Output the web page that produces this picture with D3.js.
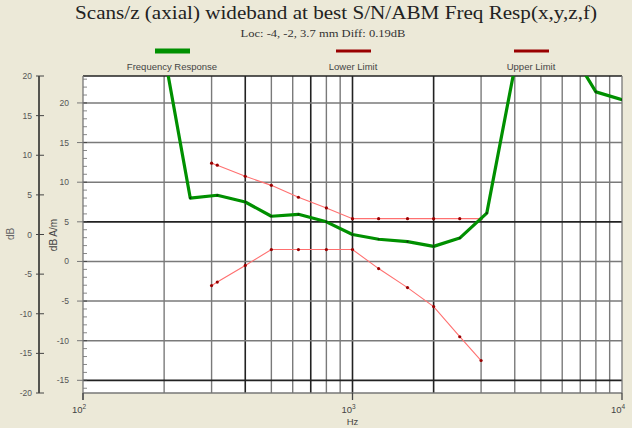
<!DOCTYPE html>
<html>
<head>
<meta charset="utf-8">
<script src="https://cdn.jsdelivr.net/npm/d3@7"></script>
<style>
  body { margin: 0; background: #ECE9D8; }
  svg { display: block; }
  text { font-family: "Liberation Sans", Arial, sans-serif; }
</style>
</head>
<body>
<div id="chart"></div>
<script>
// Data
const freqs = [200, 250, 315, 400, 500, 630, 800, 1000, 1250, 1600, 2000, 2500, 3150, 4000, 5000, 6300, 8000, 10000];
const response = [26.3, 8.0, 8.35, 7.5, 5.7, 5.95, 5.0, 3.4, 2.8, 2.5, 1.9, 2.95, 6.1, 24.5, 31, 27.2, 21.4, 20.4];

const limitFreqs = [300, 315, 400, 500, 630, 800, 1000, 1250, 1600, 2000, 2500, 3000];
const upperLimit = [12.4, 12.15, 10.75, 9.6, 8.1, 6.75, 5.4, 5.4, 5.4, 5.4, 5.4, 5.4];
const lowerLimit = [-3.05, -2.6, -0.5, 1.5, 1.5, 1.5, 1.5, -0.9, -3.3, -5.7, -9.5, -12.5];

const gridFreqs = [200, 300, 400, 500, 600, 700, 800, 900, 2000, 3000, 4000, 5000, 6000, 7000, 8000, 9000];
const boldFreqs = [400, 700, 1000, 2000];
const dbTicks = [-15, -10, -5, 0, 5, 10, 15, 20];
const boldDb = [5, -15];
const leftTicks = [-20, -15, -10, -5, 0, 5, 10, 15, 20];
const decades = [{ f: 100, e: "2" }, { f: 1000, e: "3" }, { f: 10000, e: "4" }];

const legendItems = [
  { name: "Frequency Response", color: "#009000", h: 5 },
  { name: "Lower Limit", color: "#990000", h: 3 },
  { name: "Upper Limit", color: "#990000", h: 3 }
];

const W = 632, H = 428;
const plot = { left: 83, right: 622, top: 76, bottom: 393 };

const svg = d3.select("#chart").append("svg")
  .attr("width", W)
  .attr("height", H);

const x = d3.scaleLog().domain([100, 10000]).range([plot.left, plot.right]);
const y = d3.scaleLinear().domain([-16.6, 23.4]).range([plot.bottom, plot.top]);
const yLeft = d3.scaleLinear().domain([-20, 20]).range([plot.bottom, plot.top]);

// Title
svg.append("text")
  .attr("x", 336).attr("y", 19)
  .attr("text-anchor", "middle")
  .attr("textLength", 522)
  .attr("lengthAdjust", "spacingAndGlyphs")
  .style("font-family", "'Liberation Serif', 'Times New Roman', serif")
  .style("font-size", "18px")
  .attr("fill", "#222")
  .text("Scans/z (axial) wideband at best S/N/ABM Freq Resp(x,y,z,f)");

svg.append("text")
  .attr("x", 323).attr("y", 37)
  .attr("text-anchor", "middle")
  .attr("textLength", 165)
  .attr("lengthAdjust", "spacingAndGlyphs")
  .style("font-family", "'Liberation Serif', 'Times New Roman', serif")
  .style("font-size", "10px")
  .attr("fill", "#333")
  .text("Loc: -4, -2, 3.7 mm Diff: 0.19dB");

// Legend
const legendX = [172, 353, 531];
const lg = svg.append("g").selectAll("g")
  .data(legendItems)
  .enter().append("g")
  .attr("transform", (d, i) => "translate(" + legendX[i] + ",0)");

lg.append("rect")
  .attr("x", -17).attr("width", 35)
  .attr("y", d => 51 - d.h / 2)
  .attr("height", d => d.h)
  .attr("fill", d => d.color);

lg.append("text")
  .attr("y", 70)
  .attr("text-anchor", "middle")
  .style("font-size", "9.5px")
  .attr("fill", "#444")
  .text(d => d.name);

// Plot background
svg.append("rect")
  .attr("x", plot.left).attr("y", plot.top)
  .attr("width", plot.right - plot.left)
  .attr("height", plot.bottom - plot.top)
  .attr("fill", "#fff");

// Vertical grid
svg.append("g").selectAll("line")
  .data(gridFreqs.concat([1000]))
  .enter().append("line")
  .attr("x1", d => x(d)).attr("x2", d => x(d))
  .attr("y1", plot.top).attr("y2", plot.bottom)
  .attr("stroke", d => boldFreqs.includes(d) ? "#222" : "#7a7a7a")
  .attr("stroke-width", d => boldFreqs.includes(d) ? 1.6 : 1.4);

// Horizontal grid
svg.append("g").selectAll("line")
  .data(dbTicks)
  .enter().append("line")
  .attr("x1", plot.left).attr("x2", plot.right)
  .attr("y1", d => y(d)).attr("y2", d => y(d))
  .attr("stroke", d => boldDb.includes(d) ? "#222" : "#7a7a7a")
  .attr("stroke-width", d => boldDb.includes(d) ? 1.8 : 1.4);

// Minor ticks inside the left edge
svg.append("g").selectAll("line")
  .data(d3.range(-16, 24))
  .enter().append("line")
  .attr("x1", plot.left).attr("x2", plot.left + 4)
  .attr("y1", d => y(d)).attr("y2", d => y(d))
  .attr("stroke", d => d % 5 === 0 ? "#444" : "#888")
  .attr("stroke-width", 1);

// Plot frame
svg.append("line")
  .attr("x1", plot.left).attr("x2", plot.right)
  .attr("y1", plot.top).attr("y2", plot.top)
  .attr("stroke", "#222").attr("stroke-width", 1.5);
svg.append("line")
  .attr("x1", plot.left).attr("x2", plot.right)
  .attr("y1", plot.bottom).attr("y2", plot.bottom)
  .attr("stroke", "#777").attr("stroke-width", 1.3);
svg.append("line")
  .attr("x1", plot.right).attr("x2", plot.right)
  .attr("y1", plot.top).attr("y2", plot.bottom)
  .attr("stroke", "#777").attr("stroke-width", 1.3);
svg.append("line")
  .attr("x1", plot.left).attr("x2", plot.left)
  .attr("y1", plot.top).attr("y2", plot.bottom + 7)
  .attr("stroke", "#777").attr("stroke-width", 1.3);

// Right (inner) dB A/m axis ticks + labels
const rAxis = svg.append("g");
rAxis.selectAll("line")
  .data(dbTicks)
  .enter().append("line")
  .attr("x1", plot.left - 6).attr("x2", plot.left)
  .attr("y1", d => y(d)).attr("y2", d => y(d))
  .attr("stroke", "#777");
rAxis.selectAll("text")
  .data(dbTicks)
  .enter().append("text")
  .attr("x", 69).attr("y", d => y(d) + 3)
  .attr("text-anchor", "end")
  .style("font-size", "8.5px")
  .attr("fill", "#555")
  .text(d => d);

svg.append("text")
  .attr("transform", "translate(57,235) rotate(-90)")
  .attr("text-anchor", "middle")
  .style("font-size", "10px")
  .attr("fill", "#444")
  .text("dB A/m");

// Outer dB axis
const lAxis = svg.append("g");
lAxis.append("line")
  .attr("x1", 39).attr("x2", 39)
  .attr("y1", yLeft(20)).attr("y2", yLeft(-20))
  .attr("stroke", "#222").attr("stroke-width", 1.5);
lAxis.selectAll("line.t")
  .data(leftTicks)
  .enter().append("line")
  .attr("class", "t")
  .attr("x1", 36).attr("x2", 44)
  .attr("y1", d => yLeft(d)).attr("y2", d => yLeft(d))
  .attr("stroke", "#444");
lAxis.selectAll("text")
  .data(leftTicks)
  .enter().append("text")
  .attr("x", 32).attr("y", d => yLeft(d) + 3)
  .attr("text-anchor", "end")
  .style("font-size", "8.5px")
  .attr("fill", "#555")
  .text(d => d);

svg.append("text")
  .attr("transform", "translate(14,234) rotate(-90)")
  .attr("text-anchor", "middle")
  .style("font-size", "10px")
  .attr("fill", "#666")
  .text("dB");

// Bottom decade ticks + labels
const bx = svg.append("g");
bx.selectAll("line")
  .data(decades)
  .enter().append("line")
  .attr("x1", d => x(d.f)).attr("x2", d => x(d.f))
  .attr("y1", plot.bottom).attr("y2", plot.bottom + 7)
  .attr("stroke", "#444").attr("stroke-width", 1.3);
const dl = bx.selectAll("text")
  .data(decades)
  .enter().append("text")
  .attr("x", d => x(d.f) - 4).attr("y", 413)
  .attr("text-anchor", "middle")
  .style("font-size", "9.5px")
  .attr("fill", "#444");
dl.append("tspan").text("10");
dl.append("tspan").attr("dy", -4).style("font-size", "6.5px").text(d => d.e);

svg.append("text")
  .attr("x", x(1000)).attr("y", 425)
  .attr("text-anchor", "middle")
  .style("font-size", "9.5px")
  .attr("fill", "#444")
  .text("Hz");

// Series
svg.append("clipPath").attr("id", "clip")
  .append("rect")
  .attr("x", plot.left).attr("y", plot.top)
  .attr("width", plot.right - plot.left)
  .attr("height", plot.bottom - plot.top);

const series = svg.append("g").attr("clip-path", "url(#clip)");
const line = d3.line().x(d => x(d[0])).y(d => y(d[1]));

const upperPts = limitFreqs.map((f, i) => [f, upperLimit[i]]);
const lowerPts = limitFreqs.map((f, i) => [f, lowerLimit[i]]);
const respPts = freqs.map((f, i) => [f, response[i]]);

[upperPts, lowerPts].forEach(pts => {
  series.append("path")
    .attr("d", line(pts))
    .attr("fill", "none")
    .attr("stroke", "#ff7070")
    .attr("stroke-width", 1.1);
  series.append("g").selectAll("circle")
    .data(pts)
    .enter().append("circle")
    .attr("cx", d => x(d[0])).attr("cy", d => y(d[1]))
    .attr("r", 1.6)
    .attr("fill", "#990000");
});

series.append("path")
  .attr("d", line(respPts))
  .attr("fill", "none")
  .attr("stroke", "#009000")
  .attr("stroke-width", 3.2)
  .attr("stroke-linejoin", "round");

series.append("g").selectAll("circle")
  .data(respPts)
  .enter().append("circle")
  .attr("cx", d => x(d[0])).attr("cy", d => y(d[1]))
  .attr("r", 1.1)
  .attr("fill", "#113311");
</script>
</body>
</html>
